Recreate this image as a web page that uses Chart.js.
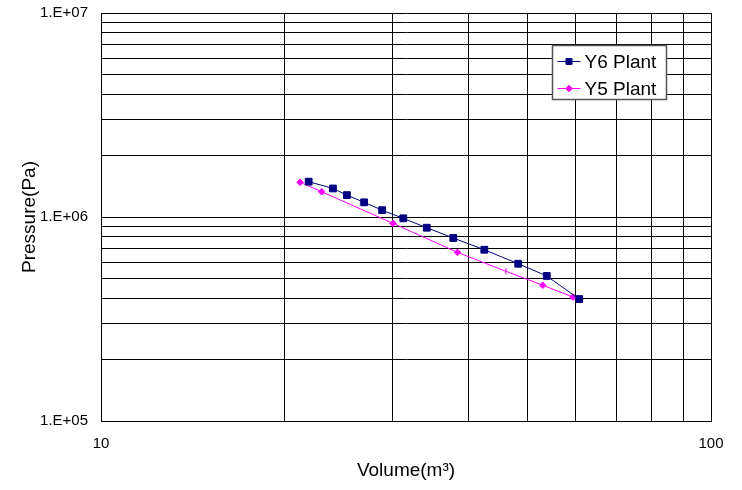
<!DOCTYPE html>
<html>
<head>
<meta charset="utf-8">
<script src="https://cdn.jsdelivr.net/npm/chart.js@4/dist/chart.umd.min.js"></script>
<style>
  html, body { margin: 0; padding: 0; background: #fff; }
  #wrap { width: 742px; height: 490px; }
</style>
</head>
<body>
<div id="wrap"><canvas id="c" width="742" height="490"></canvas></div>
<script>
// Volume (m³) and pressure (Pa) readings for the two plants
const volumeY6   = [21.9, 24.0, 25.3, 27.0, 28.9, 31.3, 34.2, 37.8, 42.5, 48.3, 53.8, 60.8];
const pressureY6 = [1.49e6, 1.38e6, 1.28e6, 1.18e6, 1.08e6, 9.85e5, 8.86e5, 7.89e5, 6.91e5, 5.90e5, 5.14e5, 3.96e5];

const volumeY5   = [21.2, 23.0, 30.1, 38.4, 46.1, 53.0, 59.4];
const pressureY5 = [1.48e6, 1.33e6, 9.31e5, 6.71e5, 5.42e5, 4.63e5, 4.05e5];

const seriesNames = ['Y6 Plant', 'Y5 Plant'];
const xRange = [10, 100];
const yRange = [1e5, 1e7];

// Log grid positions: 1..9 times each decade, plus the closing decade
const xGrid = [10, 20, 30, 40, 50, 60, 70, 80, 90, 100];
const yGrid = [1e5, 2e5, 3e5, 4e5, 5e5, 6e5, 7e5, 8e5, 9e5,
               1e6, 2e6, 3e6, 4e6, 5e6, 6e6, 7e6, 8e6, 9e6, 1e7];

const toPoints = (xs, ys) => xs.map((x, i) => ({ x: x, y: ys[i] }));
const isDecade = v => Math.abs(Math.log10(v) - Math.round(Math.log10(v))) < 1e-9;

Chart.defaults.font.family = '"Liberation Sans", Arial, sans-serif';
Chart.defaults.color = '#000';

// Boxed legend drawn inside the plot area, top right
const insideLegend = {
  id: 'insideLegend',
  afterDraw(chart) {
    const ctx = chart.ctx;
    const bx = 552.5, by = 45.5, bw = 114, bh = 54;
    ctx.save();
    ctx.fillStyle = '#fff';
    ctx.fillRect(bx, by, bw, bh);
    ctx.strokeStyle = '#555';
    ctx.lineWidth = 1.5;
    ctx.strokeRect(bx, by, bw, bh);
    ctx.font = '19px "Liberation Sans", Arial, sans-serif';
    ctx.textBaseline = 'middle';
    ctx.textAlign = 'left';
    chart.data.datasets.forEach((ds, i) => {
      const y = by + 16 + i * 27;
      ctx.strokeStyle = ds.borderColor;
      ctx.lineWidth = 1;
      ctx.beginPath();
      ctx.moveTo(bx + 5, y);
      ctx.lineTo(bx + 28, y);
      ctx.stroke();
      const style = Array.isArray(ds.pointStyle) ? ds.pointStyle[0] : ds.pointStyle;
      Chart.helpers.drawPoint(ctx, {
        pointStyle: style,
        radius: ds.legendRadius,
        rotation: 0,
        borderWidth: 1
      }, bx + 16.5, y);
      ctx.fillStyle = ds.backgroundColor;
      ctx.strokeStyle = ds.borderColor;
      ctx.fill();
      ctx.stroke();
      ctx.fillStyle = '#000';
      ctx.fillText(ds.label, bx + 32, y + 1);
    });
    ctx.restore();
  }
};

const y5Styles = volumeY5.map((v, i) => (i === 4 ? 'line' : 'rectRot'));
const y5Rotation = volumeY5.map((v, i) => (i === 4 ? 90 : 0));

new Chart(document.getElementById('c'), {
  type: 'scatter',
  data: {
    datasets: [
      {
        label: seriesNames[0],
        data: toPoints(volumeY6, pressureY6),
        showLine: true,
        borderColor: '#000080',
        backgroundColor: '#000080',
        borderWidth: 1,
        pointStyle: 'rect',
        pointRadius: 4.8,
        pointBorderWidth: 1,
        legendRadius: 4,
        tension: 0
      },
      {
        label: seriesNames[1],
        data: toPoints(volumeY5, pressureY5),
        showLine: true,
        borderColor: '#ff00ff',
        backgroundColor: '#ff00ff',
        borderWidth: 1,
        pointStyle: y5Styles,
        rotation: y5Rotation,
        pointRadius: 3.3,
        pointBorderWidth: 1,
        legendRadius: 3,
        tension: 0
      }
    ]
  },
  options: {
    responsive: false,
    animation: false,
    layout: { padding: { left: 0, top: 13, right: 31, bottom: 0 } },
    plugins: {
      legend: { display: false },
      tooltip: { enabled: false }
    },
    scales: {
      x: {
        type: 'logarithmic',
        min: xRange[0],
        max: xRange[1],
        afterBuildTicks(scale) { scale.ticks = xGrid.map(v => ({ value: v })); },
        afterFit(scale) {
          scale.height = 69;
          scale.paddingLeft = 0;
          scale.paddingRight = 0;
        },
        grid: { color: '#000', lineWidth: 1, drawTicks: false },
        border: { display: true, color: '#000', width: 1 },
        ticks: {
          autoSkip: false,
          maxRotation: 0,
          padding: 14,
          font: { size: 15 },
          callback(value) { return isDecade(value) ? String(Math.round(value)) : ''; }
        },
        title: {
          display: true,
          text: 'Volume(m³)',
          font: { size: 19 },
          padding: { top: 0, bottom: 8 }
        }
      },
      y: {
        type: 'logarithmic',
        min: yRange[0],
        max: yRange[1],
        afterBuildTicks(scale) { scale.ticks = yGrid.map(v => ({ value: v })); },
        afterFit(scale) {
          scale.width = 101;
          scale.paddingTop = 0;
          scale.paddingBottom = 0;
        },
        grid: { color: '#000', lineWidth: 1, drawTicks: false },
        border: { display: true, color: '#000', width: 1 },
        ticks: {
          autoSkip: false,
          padding: 13,
          font: { size: 15 },
          callback(value) {
            if (!isDecade(value)) return '';
            return '1.E+' + String(Math.round(Math.log10(value))).padStart(2, '0');
          }
        },
        title: {
          display: true,
          text: 'Pressure(Pa)',
          font: { size: 19 },
          padding: { top: 18, bottom: 0 }
        }
      }
    }
  },
  plugins: [insideLegend]
});
</script>
</body>
</html>
